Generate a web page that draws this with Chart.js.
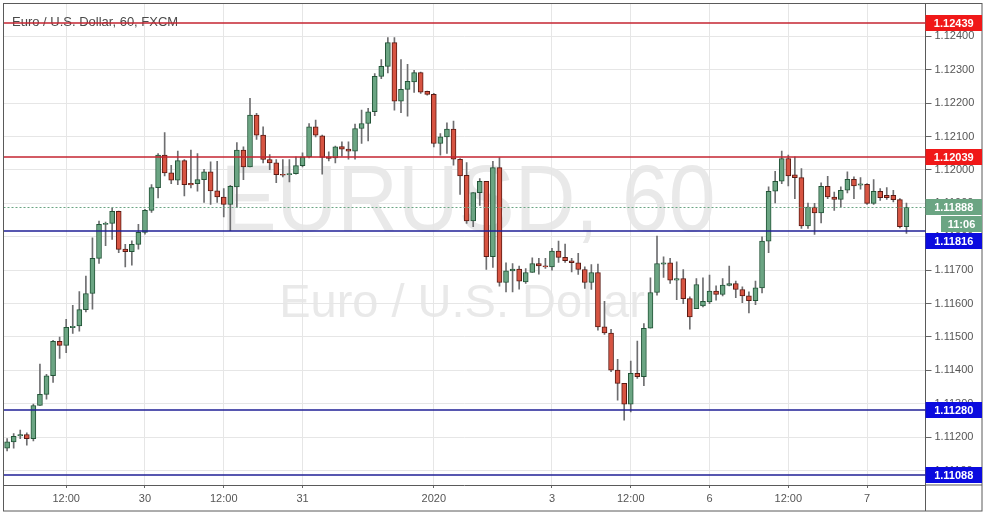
<!DOCTYPE html>
<html><head><meta charset="utf-8">
<script src="https://cdn.jsdelivr.net/npm/chart.js@4.4.1/dist/chart.umd.min.js"></script>
<style>html,body{margin:0;padding:0;background:#fff;}canvas{display:block;}</style>
</head><body>
<canvas id="c" width="988" height="515"></canvas>
<script>
const chartTitle = 'Euro / U.S. Dollar, 60, FXCM';
const watermarkSymbol = 'EURUSD, 60';
const watermarkName = 'Euro / U.S. Dollar';
const xTickIndex = [9, 21, 33, 45, 65, 83, 95, 107, 119, 131];
const xTickLabels = ['12:00', '30', '12:00', '31', '2020', '3', '12:00', '6', '12:00', '7'];
const yTicks = [1.111, 1.112, 1.113, 1.114, 1.115, 1.116, 1.117, 1.118, 1.119, 1.120, 1.121, 1.122, 1.123, 1.124];
const resistanceLevels = [1.12439, 1.12039];
const supportLevels = [1.11816, 1.11280, 1.11088];
const lastPrice = 1.11888;
const countdown = '11:06';

const open = [
1.11167,1.11186,1.11204,1.11208,1.11196,1.11295,1.11328,1.11384,1.11487,1.11475,
1.11528,1.11533,1.11582,1.11630,1.11735,1.11837,1.11840,1.11876,1.11763,1.11755,
1.11777,1.11813,1.11879,1.11947,1.12044,1.11991,1.11969,1.12028,1.11960,1.11959,
1.11971,1.11994,1.11937,1.11919,1.11897,1.11949,1.12059,1.12009,1.12164,1.12104,
1.12031,1.12021,1.11987,1.11986,1.11989,1.12013,1.12039,1.12129,1.12102,1.12039,
1.12036,1.12070,1.12062,1.12056,1.12124,1.12139,1.12174,1.12280,1.12310,1.12381,
1.12206,1.12241,1.12263,1.12291,1.12235,1.12226,1.12079,1.12099,1.12122,1.12032,
1.11984,1.11847,1.11932,1.11966,1.11740,1.12007,1.11663,1.11698,1.11703,1.11665,
1.11693,1.11720,1.11713,1.11710,1.11757,1.11738,1.11728,1.11722,1.11702,1.11663,
1.11693,1.11530,1.11512,1.11401,1.11361,1.11299,1.11391,1.11381,1.11526,1.11633,
1.11718,1.11722,1.11670,1.11675,1.11615,1.11585,1.11593,1.11605,1.11637,1.11627,
1.11654,1.11660,1.11642,1.11623,1.11609,1.11647,1.11787,1.11936,1.11966,1.12034,
1.11985,1.11977,1.11832,1.11889,1.11871,1.11951,1.11919,1.11912,1.11939,1.11972,
1.11954,1.11957,1.11900,1.11936,1.11924,1.11924,1.11911,1.11830];
const close = [
1.11186,1.11203,1.11208,1.11196,1.11295,1.11328,1.11384,1.11487,1.11475,1.11529,
1.11532,1.11582,1.11630,1.11735,1.11837,1.11840,1.11876,1.11762,1.11755,1.11777,
1.11813,1.11879,1.11947,1.12044,1.11991,1.11969,1.12028,1.11956,1.11955,1.11971,
1.11994,1.11937,1.11919,1.11897,1.11951,1.12059,1.12009,1.12164,1.12104,1.12031,
1.12021,1.11986,1.11984,1.11989,1.12013,1.12039,1.12129,1.12104,1.12037,1.12034,
1.12069,1.12062,1.12056,1.12124,1.12139,1.12174,1.12280,1.12310,1.12381,1.12206,
1.12241,1.12265,1.12291,1.12233,1.12226,1.12079,1.12099,1.12122,1.12032,1.11982,
1.11847,1.11932,1.11966,1.11740,1.12007,1.11663,1.11698,1.11703,1.11667,1.11693,
1.11720,1.11713,1.11710,1.11757,1.11738,1.11728,1.11722,1.11702,1.11663,1.11693,
1.11530,1.11512,1.11401,1.11361,1.11299,1.11391,1.11381,1.11526,1.11633,1.11720,
1.11722,1.11670,1.11675,1.11615,1.11560,1.11657,1.11607,1.11637,1.11627,1.11655,
1.11660,1.11642,1.11623,1.11609,1.11647,1.11787,1.11936,1.11966,1.12034,1.11982,
1.11977,1.11832,1.11889,1.11871,1.11951,1.11919,1.11912,1.11939,1.11972,1.11952,
1.11958,1.11900,1.11936,1.11917,1.11917,1.11911,1.11830,1.11888];
const high = [
1.11196,1.11211,1.11221,1.11213,1.11299,1.11419,1.11388,1.11490,1.11500,1.11553,
1.11595,1.11636,1.11682,1.11797,1.11847,1.11844,1.11886,1.11877,1.11777,1.11788,
1.11837,1.11882,1.11956,1.12049,1.12112,1.12014,1.12056,1.12031,1.12059,1.12049,
1.12002,1.12024,1.12026,1.11944,1.11954,1.12082,1.12069,1.12214,1.12169,1.12129,
1.12046,1.12031,1.12031,1.12031,1.12039,1.12051,1.12139,1.12149,1.12104,1.12054,
1.12071,1.12084,1.12084,1.12137,1.12179,1.12184,1.12288,1.12330,1.12396,1.12396,
1.12330,1.12316,1.12298,1.12293,1.12236,1.12229,1.12109,1.12141,1.12146,1.12034,
1.12022,1.11932,1.11974,1.11966,1.12026,1.12037,1.11722,1.11720,1.11712,1.11705,
1.11737,1.11735,1.11735,1.11765,1.11787,1.11778,1.11735,1.11750,1.11710,1.11717,
1.11718,1.11607,1.11523,1.11433,1.11361,1.11428,1.11488,1.11540,1.11677,1.11802,
1.11740,1.11735,1.11725,1.11702,1.11620,1.11675,1.11677,1.11685,1.11653,1.11675,
1.11712,1.11667,1.11650,1.11635,1.11667,1.11800,1.11949,1.11996,1.12056,1.12044,
1.12039,1.12004,1.11901,1.11900,1.11961,1.11981,1.11934,1.11949,1.11994,1.11979,
1.11977,1.11959,1.11971,1.11944,1.11947,1.11939,1.11914,1.11901];
const low = [
1.11159,1.11167,1.11196,1.11176,1.11189,1.11295,1.11314,1.11364,1.11436,1.11453,
1.11511,1.11517,1.11575,1.11583,1.11720,1.11773,1.11792,1.11752,1.11710,1.11715,
1.11763,1.11808,1.11873,1.11916,1.11982,1.11959,1.11956,1.11922,1.11946,1.11936,
1.11903,1.11897,1.11903,1.11859,1.11818,1.11888,1.11971,1.12009,1.12091,1.12021,
1.12001,1.11962,1.11979,1.11964,1.11987,1.12009,1.12036,1.12099,1.11987,1.12027,
1.12021,1.12041,1.12032,1.12032,1.12079,1.12087,1.12162,1.12273,1.12290,1.12179,
1.12171,1.12161,1.12232,1.12229,1.12224,1.12069,1.12044,1.12049,1.12014,1.11927,
1.11840,1.11830,1.11894,1.11702,1.11708,1.11652,1.11635,1.11635,1.11643,1.11660,
1.11693,1.11688,1.11705,1.11700,1.11723,1.11723,1.11695,1.11687,1.11645,1.11642,
1.11520,1.11508,1.11396,1.11311,1.11251,1.11276,1.11376,1.11354,1.11526,1.11625,
1.11678,1.11660,1.11612,1.11600,1.11523,1.11585,1.11590,1.11600,1.11610,1.11623,
1.11653,1.11618,1.11603,1.11572,1.11597,1.11632,1.11752,1.11901,1.11959,1.11952,
1.11914,1.11825,1.11825,1.11807,1.11841,1.11914,1.11879,1.11889,1.11931,1.11914,
1.11942,1.11897,1.11897,1.11909,1.11912,1.11904,1.11826,1.11810];

const FONT = "'Liberation Sans', Arial, sans-serif";
const UP = '#6ba583', DOWN = '#d75442', UP_B = '#225437', DOWN_B = '#5b1a13';
const RES_LINE = '#c42430', SUP_LINE = '#1f1f96';
const idx = open.map((_, i) => i);
const isUp = idx.map(i => close[i] >= open[i]);
const bodies = idx.map(i => ({x: i, y: [open[i], close[i]]}));
const wicks = idx.map(i => ({x: i, y: [low[i], high[i]]}));

const deco = {
  id: 'deco',
  beforeDraw(chart) {
    const c = chart.ctx, a = chart.chartArea;
    c.save();
    c.fillStyle = '#fff';
    c.fillRect(0, 0, chart.width, chart.height);
    c.beginPath(); c.rect(a.left, a.top, a.right - a.left, a.bottom - a.top); c.clip();
    c.fillStyle = '#e9e9e9';
    c.textAlign = 'center'; c.textBaseline = 'alphabetic';
    c.font = '95px ' + FONT;
    c.fillText(watermarkSymbol, 468, 231, 495);
    c.font = '47px ' + FONT;
    c.fillText(watermarkName, 462, 317);
    c.restore();
  },
  afterDatasetsDraw(chart) {
    const c = chart.ctx, a = chart.chartArea, ys = chart.scales.y;
    c.save();
    c.fillStyle = '#4a4a4a';
    c.font = '13px ' + FONT;
    c.textAlign = 'left'; c.textBaseline = 'alphabetic';
    c.fillText(chartTitle, 12, 25.5);
    let y = Math.round(ys.getPixelForValue(lastPrice)) + 0.5;
    c.strokeStyle = UP; c.lineWidth = 1; c.setLineDash([2, 2]);
    c.beginPath(); c.moveTo(a.left, y); c.lineTo(a.right, y); c.stroke();
    c.setLineDash([]);
    const drawLevel = (v, col) => {
      const yy = Math.round(ys.getPixelForValue(v));
      c.strokeStyle = col; c.lineWidth = 1.6;
      c.beginPath(); c.moveTo(a.left, yy); c.lineTo(a.right, yy); c.stroke();
    };
    resistanceLevels.forEach(v => drawLevel(v, RES_LINE));
    supportLevels.forEach(v => drawLevel(v, SUP_LINE));
    c.restore();
  },
  afterDraw(chart) {
    const c = chart.ctx, a = chart.chartArea, ys = chart.scales.y;
    const R = 982;
    c.save();
    c.strokeStyle = '#5a5a5a'; c.lineWidth = 1;
    c.strokeRect(3.5, 3.5, R - 3.5, 507.5);
    c.beginPath();
    c.moveTo(a.right, a.bottom); c.lineTo(R, a.bottom);
    c.moveTo(a.right, a.bottom); c.lineTo(a.right, 511);
    c.stroke();
    const H = 16;
    const placed = [];
    const place = (yc) => {
      let moved = true;
      while (moved) {
        moved = false;
        for (const p of placed) {
          if (Math.abs(p - yc) < H + 1) { yc = p + H + 1; moved = true; }
        }
      }
      placed.push(yc);
      return yc;
    };
    const box = (yc, col, txt, x0) => {
      c.fillStyle = col;
      c.fillRect(x0, Math.round(yc - H / 2), R - x0, H);
      c.fillStyle = '#fff';
      c.font = 'bold 11px ' + FONT;
      c.textAlign = 'center'; c.textBaseline = 'middle';
      c.fillText(txt, (x0 + R) / 2, Math.round(yc) + 0.5);
    };
    const yl = ys.getPixelForValue(lastPrice);
    placed.push(yl);
    box(yl, UP, lastPrice.toFixed(5), a.right);
    const yc = yl + H + 1; placed.push(yc);
    box(yc, UP, countdown, 941);
    resistanceLevels.forEach(v => box(place(ys.getPixelForValue(v)), '#f01818', v.toFixed(5), a.right));
    supportLevels.forEach(v => box(place(ys.getPixelForValue(v)), '#0b0bdf', v.toFixed(5), a.right));
    c.restore();
  }
};

new Chart(document.getElementById('c'), {
  type: 'bar',
  data: {
    datasets: [
      {label: 'body', data: bodies, order: 0, grouped: false, barThickness: 5, minBarLength: 1,
       borderWidth: 1, borderSkipped: false,
       backgroundColor: isUp.map(u => u ? UP : DOWN), borderColor: isUp.map(u => u ? UP_B : DOWN_B)},
      {label: 'wick', data: wicks, order: 1, grouped: false, barThickness: 1, borderWidth: 0,
       backgroundColor: '#6e6e70'}
    ]
  },
  options: {
    responsive: false, animation: false, devicePixelRatio: 1,
    layout: {padding: {left: 3.5, right: 6, top: 3.5, bottom: 4}},
    plugins: {legend: {display: false}, tooltip: {enabled: false}, title: {display: false}},
    scales: {
      x: {
        type: 'linear', min: -0.55, max: 139.9, offset: false,
        afterBuildTicks: s => { s.ticks = xTickIndex.map(v => ({value: v})); },
        afterFit: s => { s.height = 26; s.paddingLeft = 0; s.paddingRight = 0; },
        ticks: {autoSkip: false, maxRotation: 0, padding: 4, color: '#555', font: {family: FONT, size: 11},
                callback: (v, i) => xTickLabels[i]},
        grid: {offset: false, color: '#e6e6e6', tickLength: 3, tickColor: '#666'},
        border: {display: true, color: '#5a5a5a'}
      },
      y: {
        type: 'linear', position: 'right', min: 1.11057, max: 1.12498,
        afterBuildTicks: s => { s.ticks = yTicks.map(v => ({value: v})); },
        afterFit: s => { s.width = 56.5; s.paddingTop = 0; s.paddingBottom = 0; },
        ticks: {padding: 3, color: '#555', font: {family: FONT, size: 11}, callback: v => Number(v).toFixed(5)},
        grid: {color: '#e6e6e6', tickLength: 6, tickColor: '#666'},
        border: {display: true, color: '#5a5a5a'}
      }
    }
  },
  plugins: [deco]
});
</script>
</body></html>
